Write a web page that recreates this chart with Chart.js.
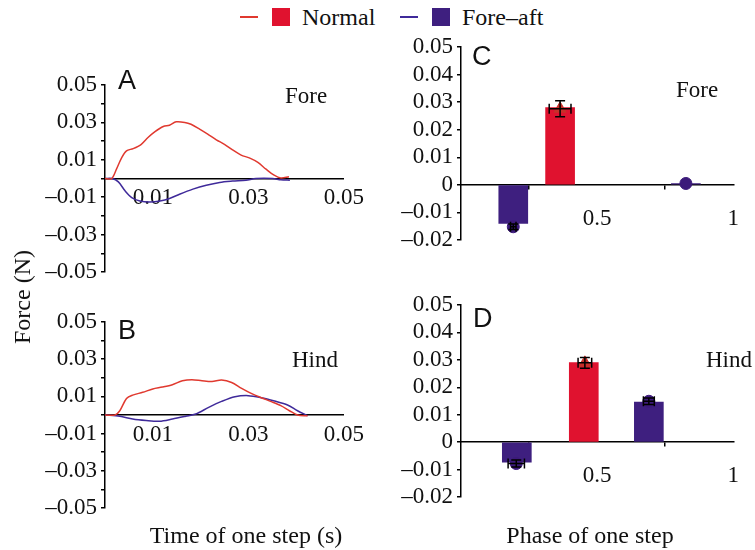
<!DOCTYPE html>
<html>
<head>
<meta charset="utf-8">
<script src="https://cdn.jsdelivr.net/npm/chart.js@4.4.1/dist/chart.umd.min.js"></script>
<style>
  body { margin: 0; background: #fff; }
  #wrap { position: relative; width: 755px; height: 550px; overflow: hidden; font-family: "Liberation Serif", serif; color: #111; }
  canvas { position: absolute; }
  .t { position: absolute; line-height: 1; white-space: nowrap; }
  .letter { font-family: "Liberation Sans", Arial, sans-serif; font-size: 27px; }
  .lab { font-size: 23px; }
  .title { font-size: 24px; }
  .sw { position: absolute; width: 18px; height: 18px; }
  .ln { position: absolute; width: 18px; height: 1.5px; }
</style>
</head>
<body>
<div id="wrap">
  <!-- legend -->
  <div class="ln" style="left:240px; top:16px; background:#e0392f;"></div>
  <div class="sw" style="left:272px; top:8px; background:#e0122f;"></div>
  <div class="t title" style="left:302px; top:5px;">Normal</div>
  <div class="ln" style="left:400px; top:16px; background:#3f2a9a;"></div>
  <div class="sw" style="left:432px; top:8px; background:#3e1f7f;"></div>
  <div class="t title" style="left:462px; top:5px;">Fore–aft</div>

  <canvas id="chartA" width="370" height="232" style="left:0; top:60px;"></canvas>
  <canvas id="chartB" width="370" height="230" style="left:0; top:300px;"></canvas>
  <canvas id="chartC" width="375" height="235" style="left:380px; top:25px;"></canvas>
  <canvas id="chartD" width="375" height="235" style="left:380px; top:285px;"></canvas>

  <div class="t letter" style="left:118px; top:67px;">A</div>
  <div class="t letter" style="left:118px; top:317px;">B</div>
  <div class="t letter" style="left:472px; top:43px;">C</div>
  <div class="t letter" style="left:473px; top:305px;">D</div>
  <div class="t lab" style="left:285px; top:84px;">Fore</div>
  <div class="t lab" style="left:292px; top:348px;">Hind</div>
  <div class="t lab" style="left:676px; top:78px;">Fore</div>
  <div class="t lab" style="left:706px; top:348px;">Hind</div>

  <div class="t title" style="left:22px; top:297px; transform:translate(-50%,-50%) rotate(-90deg);">Force (N)</div>
  <div class="t title" style="left:246px; top:535px; transform:translate(-50%,-50%);">Time of one step (s)</div>
  <div class="t title" style="left:590px; top:535px; transform:translate(-50%,-50%);">Phase of one step</div>
</div>
<script>
// tick labels
const forceTicksAB = [0.05, 0.03, 0.01, -0.01, -0.03, -0.05];
const timeTicks = [0.01, 0.03, 0.05];
const forceTicksCD = [0.05, 0.04, 0.03, 0.02, 0.01, 0, -0.01, -0.02];
const phaseTicks = [0.5, 1];

// A - fore limb, force vs time
const foreNormalT = [0, 0.0014, 0.0024, 0.0035, 0.0045, 0.0059, 0.0076, 0.009, 0.0104, 0.0122, 0.0135, 0.0149, 0.0167, 0.018, 0.0198, 0.0215, 0.0233, 0.025, 0.0267, 0.0285, 0.0302, 0.032, 0.0337, 0.0354, 0.0368, 0.0385];
const foreNormalF = [0, 0, 0.005, 0.0112, 0.0148, 0.016, 0.0183, 0.0219, 0.0249, 0.0278, 0.0285, 0.0303, 0.030, 0.029, 0.0264, 0.0237, 0.0207, 0.0183, 0.0153, 0.0125, 0.011, 0.0086, 0.005, 0.0018, 0.0003, 0.0009];
const foreFaT = [0, 0.0015, 0.0028, 0.0042, 0.0056, 0.0073, 0.0094, 0.0115, 0.0135, 0.0156, 0.0184, 0.0212, 0.024, 0.0267, 0.0295, 0.0316, 0.0351, 0.0368, 0.0387];
const foreFaF = [0, 0, -0.0018, -0.0066, -0.0102, -0.012, -0.0125, -0.012, -0.0107, -0.0084, -0.0057, -0.0036, -0.0021, -0.0014, -0.0009, 0, 0, -0.0007, -0.0009];

// B - hind limb, force vs time
const hindNormalT = [0, 0.0021, 0.0031, 0.0045, 0.0058, 0.0079, 0.01, 0.012, 0.0141, 0.0162, 0.0182, 0.0203, 0.0224, 0.0244, 0.0265, 0.0286, 0.0306, 0.0327, 0.0348, 0.0368, 0.0386, 0.0403, 0.0424];
const hindNormalF = [0, 0, 0.0023, 0.0089, 0.0107, 0.0122, 0.014, 0.015, 0.0163, 0.0184, 0.019, 0.0184, 0.018, 0.0188, 0.0175, 0.0143, 0.0116, 0.0093, 0.0072, 0.005, 0.0023, 0, -0.0004];
const hindFaT = [0, 0.0031, 0.0058, 0.0086, 0.0114, 0.0141, 0.0169, 0.019, 0.0217, 0.0244, 0.0272, 0.03, 0.0327, 0.0355, 0.0382, 0.0403, 0.0424];
const hindFaF = [0, -0.0007, -0.0022, -0.003, -0.0034, -0.0022, -0.0007, 0.0005, 0.0041, 0.0073, 0.0098, 0.0104, 0.0093, 0.0075, 0.0054, 0.0023, -0.0004];

// C - fore limb, peaks vs phase
const foreBarNormalX = [0.364];
const foreBarNormalY = [0.028];
const foreBarFaX = [0.192, 0.826];
const foreBarFaY = [-0.014, 0.0005];
const foreMarkNormalX = [0.364];
const foreMarkNormalY = [0.0276];
const foreMarkFaX = [0.192, 0.826];
const foreMarkFaY = [-0.0152, 0.0005];
const foreErrX = [0.364, 0.192];
const foreErrY = [0.0276, -0.0152];
const foreErrDx = [0.04, 0.01];
const foreErrDy = [0.0029, 0.001];

// D - hind limb, peaks vs phase
const hindBarNormalX = [0.451];
const hindBarNormalY = [0.029];
const hindBarFaX = [0.205, 0.69];
const hindBarFaY = [-0.0073, 0.0146];
const hindMarkNormalX = [0.455];
const hindMarkNormalY = [0.0289];
const hindMarkFaX = [0.203, 0.69];
const hindMarkFaY = [-0.0078, 0.0149];
const hindErrX = [0.455, 0.203, 0.69];
const hindErrY = [0.0289, -0.0078, 0.0149];
const hindErrDx = [0.025, 0.03, 0.02];
const hindErrDy = [0.002, 0.0013, 0.0012];

const RED_LINE = '#e0392f', PURPLE_LINE = '#3f2a9a';
const RED_BAR = '#e0122f', PURPLE_BAR = '#3e1f7f';

Chart.defaults.font.family = '"Liberation Serif", serif';
Chart.defaults.font.size = 23;
Chart.defaults.color = '#111';
Chart.defaults.animation = false;

const zip = (xs, ys) => xs.map((x, i) => ({x: x, y: ys[i]}));
const has = (list, v) => list.some(t => Math.abs(t - v) < 1e-9);
const fmtForce = v => {
  const r = Math.round(v * 100) / 100;
  if (r === 0) return '0';
  return (r < 0 ? '–' : '') + Math.abs(r).toFixed(2);
};

const errorBars = {
  id: 'errorBars',
  afterDatasetsDraw(chart, args, opts) {
    if (!opts || !opts.xs) return;
    const {ctx, scales: {x, y}} = chart;
    ctx.save();
    ctx.strokeStyle = '#000';
    ctx.lineWidth = 1.5;
    const cap = 5;
    opts.xs.forEach((v, i) => {
      const px = x.getPixelForValue(v), py = y.getPixelForValue(opts.ys[i]);
      const x0 = x.getPixelForValue(v - opts.dxs[i]), x1 = x.getPixelForValue(v + opts.dxs[i]);
      const y0 = y.getPixelForValue(opts.ys[i] - opts.dys[i]), y1 = y.getPixelForValue(opts.ys[i] + opts.dys[i]);
      ctx.beginPath();
      ctx.moveTo(x0, py); ctx.lineTo(x1, py);
      ctx.moveTo(px, y0); ctx.lineTo(px, y1);
      ctx.moveTo(x0, py - cap); ctx.lineTo(x0, py + cap);
      ctx.moveTo(x1, py - cap); ctx.lineTo(x1, py + cap);
      ctx.moveTo(px - cap, y0); ctx.lineTo(px + cap, y0);
      ctx.moveTo(px - cap, y1); ctx.lineTo(px + cap, y1);
      ctx.stroke();
    });
    ctx.restore();
  }
};

function yAxis(min, max, labels, width) {
  return {
    type: 'linear', position: 'left', min: min, max: max,
    afterFit(s) { s.width = width; },
    border: {display: true, color: '#000', width: 1.5},
    grid: {drawOnChartArea: false, color: '#000', lineWidth: 1.5, tickLength: 4},
    ticks: {stepSize: 0.01, padding: 4, autoSkip: false, callback: v => has(labels, v) ? fmtForce(v) : ''}
  };
}

function lineChart(id, nT, nF, fT, fF, pad) {
  return new Chart(document.getElementById(id), {
    type: 'line',
    data: {
      datasets: [
        {data: zip(nT, nF), borderColor: RED_LINE, borderWidth: 1.5, pointRadius: 0, tension: 0.3},
        {data: zip(fT, fF), borderColor: PURPLE_LINE, borderWidth: 1.5, pointRadius: 0, tension: 0.3}
      ]
    },
    options: {
      responsive: false,
      layout: {padding: pad},
      plugins: {legend: {display: false}, tooltip: {enabled: false}},
      scales: {
        x: {
          type: 'linear', position: {y: 0}, min: 0, max: 0.05,
          border: {display: true, color: '#000', width: 1.5},
          grid: {display: false, drawTicks: false},
          ticks: {stepSize: 0.01, padding: 6, maxRotation: 0, autoSkip: false,
                  callback: v => has(timeTicks, v) ? (Math.round(v * 100) / 100).toFixed(2) : ''}
        },
        y: yAxis(-0.05, 0.05, forceTicksAB, 105)
      }
    }
  });
}

function barChart(id, bNX, bNY, bFX, bFY, mNX, mNY, mFX, mFY, eX, eY, eDx, eDy, pad) {
  return new Chart(document.getElementById(id), {
    type: 'bar',
    data: {
      datasets: [
        {type: 'line', data: zip(mFX, mFY), showLine: false, pointStyle: 'circle', pointRadius: 6,
         pointBackgroundColor: '#3c1a7a', pointBorderColor: '#3c1a7a', order: 0},
        {type: 'line', data: zip(mNX, mNY), showLine: false, pointStyle: 'triangle', pointRadius: 7,
         pointBackgroundColor: '#c8302a', pointBorderColor: '#c8302a', order: 0},
        {data: zip(bNX, bNY), backgroundColor: RED_BAR, barThickness: 29, grouped: false, order: 1},
        {data: zip(bFX, bFY), backgroundColor: PURPLE_BAR, barThickness: 29, grouped: false, order: 1}
      ]
    },
    options: {
      responsive: false,
      layout: {padding: pad},
      plugins: {
        legend: {display: false}, tooltip: {enabled: false},
        errorBars: {xs: eX, ys: eY, dxs: eDx, dys: eDy}
      },
      scales: {
        x: {
          type: 'linear', position: {y: 0}, min: 0, max: 1, offset: false,
          border: {display: true, color: '#000', width: 1.5},
          grid: {drawOnChartArea: false, color: '#000', lineWidth: 1.5, tickLength: 4},
          ticks: {stepSize: 0.5, padding: 16, maxRotation: 0, autoSkip: false,
                  callback: v => has(phaseTicks, v) ? String(v) : ''}
        },
        y: yAxis(-0.02, 0.05, forceTicksCD, 81)
      }
    },
    plugins: [errorBars]
  });
}

lineChart('chartA', foreNormalT, foreNormalF, foreFaT, foreFaF, {top: 25, right: 25, bottom: 20, left: 0});
lineChart('chartB', hindNormalT, hindNormalF, hindFaT, hindFaF, {top: 22, right: 23, bottom: 22, left: 0});
barChart('chartC', foreBarNormalX, foreBarNormalY, foreBarFaX, foreBarFaY,
         foreMarkNormalX, foreMarkNormalY, foreMarkFaX, foreMarkFaY,
         foreErrX, foreErrY, foreErrDx, foreErrDy, {top: 22, right: 18, bottom: 20, left: 0});
barChart('chartD', hindBarNormalX, hindBarNormalY, hindBarFaX, hindBarFaY,
         hindMarkNormalX, hindMarkNormalY, hindMarkFaX, hindMarkFaY,
         hindErrX, hindErrY, hindErrDx, hindErrDy, {top: 20, right: 18, bottom: 23, left: 0});
</script>
</body>
</html>
